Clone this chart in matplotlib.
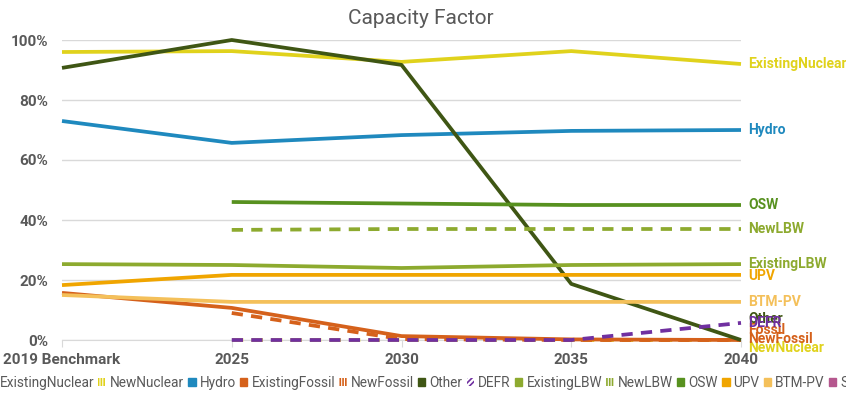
import numpy as np
import matplotlib
matplotlib.use('Agg')
import matplotlib.pyplot as plt
from matplotlib.patches import Patch

plt.rcParams['font.family'] = ['Roboto', 'DejaVu Sans']
plt.rcParams['hatch.linewidth'] = 1.2

years = ['2019 Benchmark', '2025', '2030', '2035', '2040']

# capacity factor in percent, None where the resource does not exist yet
existing_nuclear = [96.0, 96.3, 92.7, 96.3, 92.0]
new_nuclear = [None, 0.0, 0.0, 0.0, 0.0]
hydro = [73.0, 65.7, 68.3, 69.7, 70.0]
existing_fossil = [15.7, 10.7, 1.3, 0.2, 0.0]
new_fossil = [None, 9.0, 0.3, 0.0, 0.0]
other = [90.7, 100.0, 91.7, 18.7, 0.0]
defr = [None, 0.0, 0.0, 0.0, 5.7]
existing_lbw = [25.3, 25.0, 24.0, 25.0, 25.3]
new_lbw = [None, 36.7, 37.0, 37.0, 37.0]
osw = [None, 46.0, 45.5, 45.0, 45.0]
upv = [18.3, 21.7, 21.7, 21.7, 21.7]
btm_pv = [15.0, 12.7, 12.7, 12.7, 12.7]
storage = [None, None, None, None, None]

# name, values, colour, dashed, end label text, label nudge (points)
series = [
    ('ExistingNuclear', existing_nuclear, '#E0D21C', False, 'ExistingNuclear', 0),
    ('NewNuclear', new_nuclear, '#E0D21C', True, 'NewNuclear', -6),
    ('Hydro', hydro, '#1F89BE', False, 'Hydro', 0),
    ('ExistingFossil', existing_fossil, '#D5611B', False, 'Fossil', 7),
    ('NewFossil', new_fossil, '#D5611B', True, 'NewFossil', 1),
    ('Other', other, '#3F5614', False, 'Other', 15),
    ('DEFR', defr, '#7030A0', True, 'DEFR', 0),
    ('ExistingLBW', existing_lbw, '#8DAA2F', False, 'ExistingLBW', 0),
    ('NewLBW', new_lbw, '#8DAA2F', True, 'NewLBW', 0),
    ('OSW', osw, '#57911F', False, 'OSW', 0),
    ('UPV', upv, '#F0A500', False, 'UPV', -1),
    ('BTM-PV', btm_pv, '#F4C05A', False, 'BTM-PV', 0),
    ('Storage', storage, '#B5578E', False, None, 0),
]

hatched = {'NewNuclear': '||||||', 'NewFossil': '||||||', 'NewLBW': '||||||', 'DEFR': '//////'}

fig = plt.figure(figsize=(8.46, 3.95), dpi=100)
ax = fig.add_axes([62 / 846, 55 / 395, 679 / 846, 300 / 395])

x = np.arange(len(years))
handles = []
for name, vals, col, dashed, lab, nudge in series:
    y = np.array([np.nan if v is None else v / 100.0 for v in vals])
    ax.plot(x, y, color=col, lw=2.7, ls=(0, (3, 2.2)) if dashed else '-',
            solid_capstyle='butt', clip_on=False, zorder=3)
    if lab is not None and not np.isnan(y[-1]):
        ax.annotate(lab, (x[-1], y[-1]), xytext=(5, nudge), textcoords='offset points',
                    color=col, fontsize=10, fontweight='bold', va='center', ha='left',
                    annotation_clip=False)
    if name in hatched:
        handles.append(Patch(facecolor='white', edgecolor=col, hatch=hatched[name], lw=0, label=name))
    else:
        handles.append(Patch(facecolor=col, edgecolor=col, label=name))

ax.set_xlim(0, len(years) - 1)
ax.set_ylim(0, 1.0)
ax.set_yticks(np.arange(0, 1.01, 0.2))
ax.set_yticklabels(['%d%%' % v for v in range(0, 101, 20)])
ax.set_xticks(x)
ax.set_xticklabels(years)
ax.grid(axis='y', color='#D9D9D9', lw=1)
ax.set_axisbelow(True)
for s in ['top', 'right', 'left']:
    ax.spines[s].set_visible(False)
ax.spines['bottom'].set_color('#D9D9D9')
ax.tick_params(axis='x', length=5, color='#D9D9D9', pad=4)
ax.tick_params(axis='y', length=0, pad=10)
for t in ax.get_xticklabels() + ax.get_yticklabels():
    t.set_fontweight('bold')
    t.set_fontsize(11)
    t.set_color('#595959')

fig.text(421 / 846, 1 - 18 / 395, 'Capacity Factor', ha='center', va='center',
         fontsize=15, color='#595959')

fig.legend(handles=handles, loc='center left', bbox_to_anchor=(-12 / 846, 1 - 383 / 395),
           ncol=len(handles), frameon=False, fontsize=9.8, handlelength=0.55,
           handleheight=0.55, handletextpad=0.3, columnspacing=0.3, borderpad=0,
           borderaxespad=0, labelcolor='#595959')

plt.savefig('out.png', dpi=100)
